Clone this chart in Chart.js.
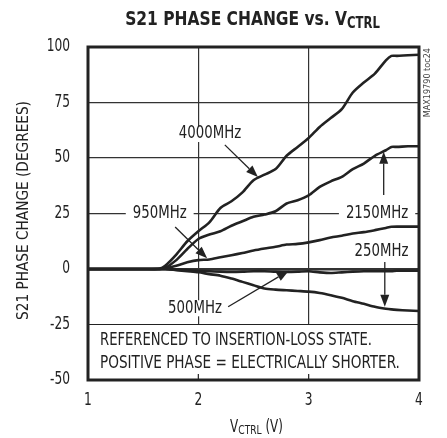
<!DOCTYPE html>
<html>
<head>
<meta charset="utf-8">
<script src="https://cdn.jsdelivr.net/npm/chart.js@4.4.1/dist/chart.umd.min.js"></script>
<style>
  body { margin: 0; background: #fff; }
  #wrap { width: 447px; height: 438px; }
</style>
</head>
<body>
<div id="wrap"><canvas id="phase" width="447" height="438"></canvas></div>
<script>
// values (VCTRL in volts, phase change in degrees)
const vctrl = [1.0, 1.5, 1.65, 1.7, 1.8, 1.9, 2.0, 2.1, 2.2, 2.3, 2.4, 2.5, 2.6, 2.7, 2.8, 2.9,
               3.0, 3.1, 3.2, 3.3, 3.4, 3.5, 3.6, 3.7, 3.75, 3.8, 3.9, 4.0];
const phase4000 = [0, 0, 0.2, 1.5, 6.5, 12.5, 17, 21, 27.5, 30.5, 34.5, 40, 42.5, 45, 51, 55,
                   59, 64, 68, 72, 79.5, 84, 88, 94, 96, 96, 96.3, 96.5];
const phase2150 = [0, 0, 0, 0.5, 4, 9, 13.5, 15.5, 17, 19.5, 21.5, 23.5, 24.5, 26, 29.5, 31,
                   33.2, 37, 39.5, 41.5, 45, 47.5, 51, 53.5, 55, 55, 55.3, 55.3];
const phase950 = [0, 0, 0, 0.3, 1.5, 3, 4, 4.3, 5.3, 6.2, 7.2, 8.3, 9.2, 10, 11, 11.3,
                  12, 13, 14.2, 15, 16, 16.6, 17.5, 18.5, 19, 19.1, 19.1, 19.1];
const phase500 = [0, 0, 0, 0, -0.3, -0.5, -0.8, -1, -1.2, -1.3, -1.2, -1, -1, -1.2, -1.3, -1.2,
                  -1, -1.5, -1.8, -1.5, -1.2, -1, -1, -1, -1, -0.8, -0.8, -0.8];
const phase250 = [0, 0, 0, 0, -0.5, -1, -1.5, -2.3, -3, -4.3, -5.8, -7.3, -8.8, -9.3, -9.6, -9.9,
                  -10.2, -10.8, -11.8, -13, -14.5, -15.7, -17, -17.9, -18.2, -18.4, -18.7, -18.9];
const seriesNames = ["250MHz", "500MHz", "950MHz", "2150MHz", "4000MHz"];
const seriesData = [phase250, phase500, phase950, phase2150, phase4000];
const xTicks = [1, 2, 3, 4];
const yTicks = [-50, -25, 0, 25, 50, 75, 100];

// curve labels: [text, labelX, labelY, arrowFromX, arrowFromY, arrowToX, arrowToY, gapPadding]
const curveLabels = [
  ["4000MHz", 2.106, 60.8, 2.24, 55.9, 2.54, 41.4, 4],
  ["950MHz", 1.65, 25, 1.79, 18.9, 2.08, 4.8, 14],
  ["2150MHz", 3.62, 25, 3.68, 33.3, 3.68, 52.8, 14],
  ["250MHz", 3.66, 7.8, 3.69, 3.2, 3.69, -17, 4],
  ["500MHz", 1.97, -17.7, 2.27, -17, 2.82, -0.8, 4]
];
const noteLines = ["REFERENCED TO INSERTION-LOSS STATE.", "POSITIVE PHASE = ELECTRICALLY SHORTER."];

const NARROW = '"Liberation Sans Narrow", "DejaVu Sans Condensed", sans-serif';
const INK = "#222";

function arrow(ctx, x1, y1, x2, y2) {
  const ang = Math.atan2(y2 - y1, x2 - x1);
  const hl = 12, hw = 4.5;
  const bx = x2 - hl * Math.cos(ang), by = y2 - hl * Math.sin(ang);
  ctx.beginPath();
  ctx.moveTo(x1, y1);
  ctx.lineTo(bx, by);
  ctx.stroke();
  ctx.beginPath();
  ctx.moveTo(x2, y2);
  ctx.lineTo(bx + hw * Math.sin(ang), by - hw * Math.cos(ang));
  ctx.lineTo(bx - hw * Math.sin(ang), by + hw * Math.cos(ang));
  ctx.closePath();
  ctx.fill();
}

// horizontally squeezed text, to get the tall condensed look
function sqText(ctx, text, x, y, font, sx, align) {
  ctx.save();
  ctx.translate(x, y);
  ctx.scale(sx, 1);
  ctx.font = font;
  ctx.textAlign = align || "left";
  ctx.fillText(text, 0, 0);
  ctx.restore();
}

// parts = [[text, font, dy], ...] centred on cx
function richText(ctx, parts, cx, y, sx) {
  let w = 0;
  parts.forEach(p => { ctx.font = p[1]; w += ctx.measureText(p[0]).width * sx; });
  let x = cx - w / 2;
  parts.forEach(p => {
    sqText(ctx, p[0], x, y + p[2], p[1], sx, "left");
    ctx.font = p[1];
    x += ctx.measureText(p[0]).width * sx;
  });
}

const decor = {
  id: "decor",
  beforeDatasetsDraw(chart) {
    const { ctx, chartArea: a, scales: { x, y } } = chart;
    ctx.save();
    // note box over the lowest band
    const top = y.getPixelForValue(-25);
    ctx.fillStyle = "#fff";
    ctx.fillRect(a.left, top, a.right - a.left, a.bottom - top);
    ctx.strokeStyle = INK;
    ctx.lineWidth = 1.2;
    ctx.beginPath();
    ctx.moveTo(a.left, top);
    ctx.lineTo(a.right, top);
    [2, 3].forEach(v => {
      const px = x.getPixelForValue(v);
      ctx.moveTo(px, a.bottom);
      ctx.lineTo(px, a.bottom - 6);
    });
    ctx.stroke();
    ctx.fillStyle = INK;
    ctx.textBaseline = "middle";
    sqText(ctx, noteLines[0], a.left + 12, top + 16, "17px " + NARROW, 0.86);
    sqText(ctx, noteLines[1], a.left + 12, top + 39, "17px " + NARROW, 0.89);
    ctx.restore();
  },
  afterDatasetsDraw(chart) {
    const { ctx, chartArea: a, scales: { x, y } } = chart;
    ctx.save();
    ctx.strokeStyle = INK;
    ctx.fillStyle = INK;
    ctx.lineWidth = 1.3;
    ctx.textBaseline = "middle";
    const lf = "17px " + NARROW, lsx = 0.87;
    curveLabels.forEach(l => {
      const lx = x.getPixelForValue(l[1]), ly = y.getPixelForValue(l[2]);
      ctx.font = lf;
      const w = ctx.measureText(l[0]).width * lsx + l[7];
      ctx.fillStyle = "#fff";
      ctx.fillRect(lx - w / 2, ly - 8, w, 16);
      ctx.fillStyle = INK;
      sqText(ctx, l[0], lx, ly, lf, lsx, "center");
      arrow(ctx, x.getPixelForValue(l[3]), y.getPixelForValue(l[4]),
            x.getPixelForValue(l[5]), y.getPixelForValue(l[6]));
    });
    // frame
    ctx.lineWidth = 3;
    ctx.strokeRect(a.left, a.top, a.right - a.left, a.bottom - a.top);
    ctx.restore();
  },
  afterDraw(chart) {
    const { ctx, chartArea: a, scales: { x, y } } = chart;
    ctx.save();
    ctx.fillStyle = INK;
    // tick labels
    ctx.textBaseline = "middle";
    const tf = "17px " + NARROW;
    yTicks.forEach(v => sqText(ctx, String(v), a.left - 18, y.getPixelForValue(v), tf, 0.8, "right"));
    xTicks.forEach(v => sqText(ctx, String(v), x.getPixelForValue(v), a.bottom + 21, tf, 0.8, "center"));
    ctx.textBaseline = "alphabetic";
    // title
    richText(ctx, [
      ["S21 PHASE CHANGE vs. V", "bold 20px " + NARROW, 0],
      ["CTRL", "bold 15px " + NARROW, 3]
    ], (a.left + a.right) / 2 - 1, 25, 0.86);
    // x axis title
    richText(ctx, [
      ["V", "17px " + NARROW, 0],
      ["CTRL", "13px " + NARROW, 2],
      [" (V)", "17px " + NARROW, 0]
    ], (a.left + a.right) / 2 + 3, 432, 0.78);
    // y axis title
    ctx.translate(24, (a.top + a.bottom) / 2 - 3);
    ctx.rotate(-Math.PI / 2);
    ctx.textBaseline = "middle";
    sqText(ctx, "S21 PHASE CHANGE (DEGREES)", 0, 0, "16px " + NARROW, 0.95, "center");
    ctx.restore();
    // figure tag
    ctx.save();
    ctx.translate(428, a.top + 1);
    ctx.rotate(-Math.PI / 2);
    ctx.textBaseline = "middle";
    ctx.fillStyle = "#444";
    sqText(ctx, "MAX19790 toc24", 0, 0, "9px " + NARROW, 1, "right");
    ctx.restore();
  }
};

new Chart(document.getElementById("phase"), {
  type: "line",
  data: {
    datasets: seriesNames.map((name, i) => ({
      label: name,
      data: vctrl.map((v, j) => ({ x: v, y: seriesData[i][j] })),
      borderColor: INK,
      borderWidth: 2.6,
      pointRadius: 0,
      tension: 0.25,
      fill: false
    }))
  },
  options: {
    responsive: false,
    animation: false,
    layout: { padding: { top: 47, right: 28, left: 0, bottom: 0 } },
    plugins: { legend: { display: false }, tooltip: { enabled: false } },
    scales: {
      x: {
        type: "linear",
        min: 1, max: 4,
        afterFit: s => { s.height = 58; },
        afterBuildTicks: s => { s.ticks = xTicks.map(v => ({ value: v })); },
        border: { display: false },
        grid: {
          drawTicks: false,
          color: c => (c.tick && (c.tick.value === 1 || c.tick.value === 4)) ? "rgba(0,0,0,0)" : "#333",
          lineWidth: 1.2
        },
        ticks: { display: false }
      },
      y: {
        min: -50, max: 100,
        afterFit: s => { s.width = 88; },
        afterBuildTicks: s => { s.ticks = yTicks.map(v => ({ value: v })); },
        border: { display: false },
        grid: {
          drawTicks: false,
          color: "#333",
          lineWidth: c => (c.tick && c.tick.value === 0) ? 2.6 : 1.2
        },
        ticks: { display: false }
      }
    }
  },
  plugins: [decor]
});
</script>
</body>
</html>
